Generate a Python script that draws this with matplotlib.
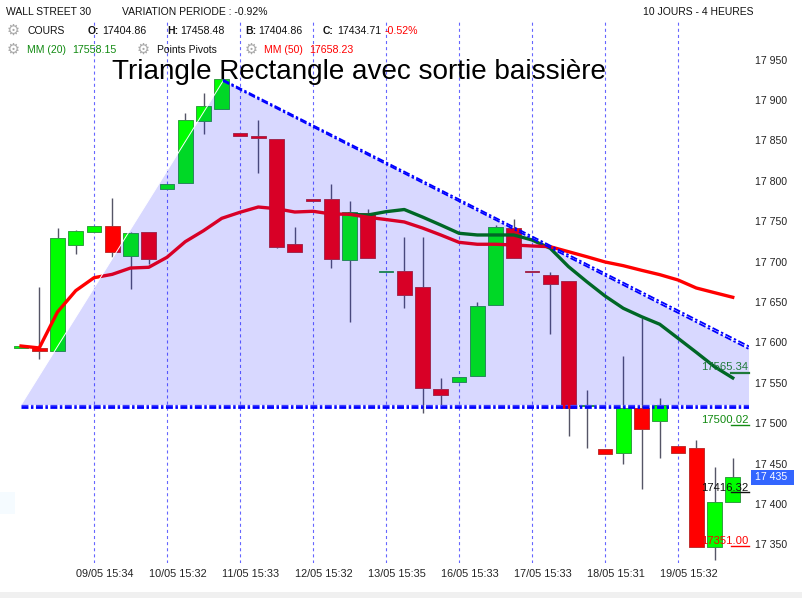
import numpy as np
import matplotlib
matplotlib.use('Agg')
import matplotlib.pyplot as plt
from matplotlib.patches import Rectangle
from matplotlib.transforms import ScaledTranslation

plt.rcParams['font.family'] = ['Liberation Sans', 'DejaVu Sans']
plt.rcParams['lines.scale_dashes'] = False

# ------------------
# data

opens = [17593.5, 17592.7, 17589.7, 17720.9, 17737.0, 17743.6, 17707.3, 17736.2, 17790.2, 17796.8,
         17874.3, 17888.4, 17858.7, 17855.4, 17851.3, 17721.7, 17777.5, 17777.4, 17702.3, 17759.7,
         17686.5, 17688.3, 17668.5, 17542.3, 17551.4, 17558.8, 17646.6, 17741.5, 17688.5, 17683.4,
         17676.0, 17520.7, 17467.7, 17463.5, 17518.8, 17502.4, 17471.5, 17469.0, 17346.5, 17402.2]
closes = [17595.5, 17589.7, 17728.8, 17737.4, 17743.6, 17712.2, 17735.0, 17703.5, 17796.0, 17875.1,
          17892.1, 17925.5, 17855.7, 17853.3, 17718.4, 17712.2, 17775.5, 17703.5, 17761.0, 17704.8,
          17688.5, 17659.0, 17544.0, 17535.3, 17557.2, 17644.7, 17742.8, 17704.8, 17686.5, 17672.6,
          17518.5, 17522.7, 17462.3, 17518.8, 17492.5, 17522.5, 17463.5, 17346.5, 17402.2, 17433.1]
highs = [17595.5, 17668.5, 17741.5, 17739.0, 17743.6, 17778.6, 17736.2, 17736.2, 17796.0, 17883.8,
         17908.6, 17925.5, 17858.7, 17875.1, 17851.3, 17742.8, 17777.5, 17796.0, 17775.0, 17765.0,
         17688.5, 17730.4, 17730.4, 17556.0, 17557.2, 17649.6, 17745.2, 17752.7, 17688.5, 17687.1,
         17676.0, 17541.1, 17467.7, 17583.2, 17630.2, 17531.2, 17471.5, 17479.2, 17445.8, 17457.0]
lows = [17593.5, 17579.8, 17589.7, 17709.7, 17737.0, 17705.3, 17666.4, 17697.0, 17790.2, 17796.8,
        17857.8, 17888.4, 17855.7, 17810.0, 17717.2, 17712.2, 17775.5, 17692.4, 17625.6, 17704.8,
        17686.5, 17643.0, 17512.7, 17522.5, 17551.4, 17558.8, 17646.6, 17704.8, 17686.5, 17610.4,
        17484.6, 17469.7, 17462.3, 17449.9, 17419.0, 17457.3, 17463.5, 17346.5, 17331.1, 17402.2]

ma50 = [17595.5, 17593.1, 17637.6, 17664.0, 17680.0, 17684.2, 17692.0, 17692.9, 17705.3, 17724.6,
        17738.2, 17753.5, 17761.0, 17767.5, 17765.4, 17761.3, 17762.2, 17758.9, 17758.5, 17754.8,
        17752.0, 17749.0, 17741.5, 17732.9, 17723.8, 17721.4, 17721.4, 17720.5, 17719.3, 17718.4,
        17712.2, 17706.0, 17699.5, 17694.9, 17689.2, 17683.8, 17677.2, 17667.3, 17661.5, 17655.8]
ma20_start = 18
ma20 = [17758.5, 17757.6, 17761.7, 17764.4, 17755.1, 17745.2, 17735.0, 17732.9, 17732.9, 17732.9,
        17726.7, 17716.4, 17693.7, 17675.1, 17657.4, 17642.2, 17631.8, 17622.4, 17605.1, 17587.7,
        17569.9, 17556.0]

tri_x = [0, 11.07, 39.89, 39.89]
tri_y = [17522.5, 17923.4, 17591.8, 17522.5]
line_a_x = [11.07, 39.89]
line_a_y = [17925.0, 17595.0]
line_b_x = [11.07, 39.89]
line_b_y = [17923.4, 17591.8]
base_x = [0, 39.89]
base_top = 17522.5
base_low = 17519.7

price_ticks = [17950, 17900, 17850, 17800, 17750, 17700, 17650, 17600, 17550, 17500, 17450, 17400, 17350]
price_labels = ['17 950', '17 900', '17 850', '17 800', '17 750', '17 700', '17 650', '17 600',
                '17 550', '17 500', '17 450', '17 400', '17 350']
date_ticks = [4, 8, 12, 16, 20, 24, 28, 32, 36]
date_labels = ['09/05 15:34', '10/05 15:32', '11/05 15:33', '12/05 15:32', '13/05 15:35',
               '16/05 15:33', '17/05 15:33', '18/05 15:31', '19/05 15:32']

pivot_names = ['17565.34', '17500.02', '17416.32', '17351.00']
pivot_levels = [17562.5, 17497.4, 17414.5, 17348.5]
pivot_label_levels = [17563.0, 17498.0, 17414.0, 17348.0]
pivot_colors = ['#1f7a3a', '#118a11', '#111111', '#ff0000']
pivot_widths = [1.6, 1, 1, 1]

# ------------------

fig = plt.figure(figsize=(8.02, 5.98), dpi=100)
ax = fig.add_axes((0, (598-563)/598, 749/802, (563-20)/598))
ax.set_xlim(-1.151, 39.89)
ax.set_ylim(17327.0, 17998.9)
for s in ax.spines.values():
    s.set_visible(False)

x = np.arange(len(opens))

for d in date_ticks:
    ax.axvline(d, color='#6666ff', lw=0.8, ls=(0, (2.2, 2.2)), zorder=1)

for i in x:
    up = closes[i] >= opens[i]
    ax.plot([i, i], [lows[i], highs[i]], color='#555566', lw=1, zorder=2, solid_capstyle='butt')
    ax.bar(i, abs(closes[i]-opens[i]), bottom=min(opens[i], closes[i]), width=0.8,
           color='#00ff00' if up else '#ff0000',
           edgecolor='#30a040' if up else '#c03030', lw=0.7, zorder=3)

ax.plot(x, ma50, color='#ff0000', lw=2.4, zorder=4)
ax.plot(x[ma20_start:], ma20, color='#007a00', lw=2.4, zorder=3.5)

# triangle goes over the candles and darkens them
ax.fill(tri_x, tri_y, color='#0000ff', alpha=0.153, lw=0, zorder=5)
ax.plot(tri_x[:2], tri_y[:2], color='white', lw=0.7, zorder=5.5)

dash = (0, (5, 1.8, 1.8, 1.8))
ax.plot(line_a_x, line_a_y, color='#0000ff', lw=1.3, ls=dash, zorder=6)
ax.plot(line_b_x, line_b_y, color='#0000ff', lw=1.3, ls=dash, zorder=6)
ax.plot(base_x, [base_top, base_top], color='#4040ff', lw=0.9, ls=dash, zorder=6)
ax.plot(base_x, [base_low, base_low], color='#0000ff', lw=2, ls=dash, zorder=6)

for name, level, lab, col, w in zip(pivot_names, pivot_levels, pivot_label_levels, pivot_colors, pivot_widths):
    ax.plot([38.9, 39.89], [level, level], color=col, lw=w, zorder=7, clip_on=False)
    ax.text(39.85, lab, name, color=col, fontsize=8.1, ha='right', va='bottom', zorder=7)

ax.yaxis.tick_right()
ax.set_yticks(price_ticks)
ax.set_yticklabels(price_labels, fontsize=7.6, color='#222222')
ax.tick_params(axis='y', length=0, pad=4)
ax.set_xticks(date_ticks)
ax.set_xticklabels(date_labels, fontsize=7.8, color='#222222')
ax.tick_params(axis='x', length=0, pad=4.5)
shift = ScaledTranslation(11/100, 0, fig.dpi_scale_trans)
for lab in ax.get_xticklabels():
    lab.set_transform(lab.get_transform() + shift)


def put(px, py, s, color='#111111', size=7.5, **kw):
    fig.text(px/802, 1-py/598, s, color=color, fontsize=size, va='center', **kw)


put(6, 12, 'WALL STREET 30')
put(122, 12, 'VARIATION PERIODE : -0.92%')
put(643, 12, '10 JOURS - 4 HEURES')

put(27, 31, 'COURS')
put(88, 31, 'O:', fontweight='bold')
put(102, 31, '17404.86', size=7.7)
put(167, 31, 'H:', fontweight='bold')
put(180, 31, '17458.48', size=7.7)
put(245, 31, 'B:', fontweight='bold')
put(258, 31, '17404.86', size=7.7)
put(323, 31, 'C:', fontweight='bold')
put(337, 31, '17434.71', size=7.7)
put(385, 31, '-0.52%', color='#ff0000', size=7.7)

put(27, 50, 'MM (20)', color='#118a11')
put(72, 50, '17558.15', color='#118a11', size=7.7)
put(157, 50, 'Points Pivots')
put(264, 50, 'MM (50)', color='#ff0000')
put(309, 50, '17658.23', color='#ff0000', size=7.7)

for gx, gy in [(13, 30), (13, 49), (143, 49), (251, 49)]:
    fig.text(gx/802, 1-gy/598, '\u2699', color='#a8a8a8', fontsize=10.5, ha='center', va='center',
             family='DejaVu Sans', fontweight='bold')

put(112, 72, 'Triangle Rectangle avec sortie baissi\u00e8re', color='#000000', size=20.1)

# last price flag, left marker and footer strip
fig.patches.append(Rectangle((751/802, 1-485/598), 43/802, 15/598, transform=fig.transFigure,
                             color='#3366ff', lw=0))
put(755, 477.5, '17 435', color='white', size=7.6, zorder=5)
fig.patches.append(Rectangle((0, 1-514/598), 15/802, 22/598, transform=fig.transFigure,
                             color='#f5fbff', lw=0))
fig.patches.append(Rectangle((0, 0), 1, 6/598, transform=fig.transFigure,
                             color='#f0f0f0', lw=0))

fig.savefig('out.png', dpi=100)
